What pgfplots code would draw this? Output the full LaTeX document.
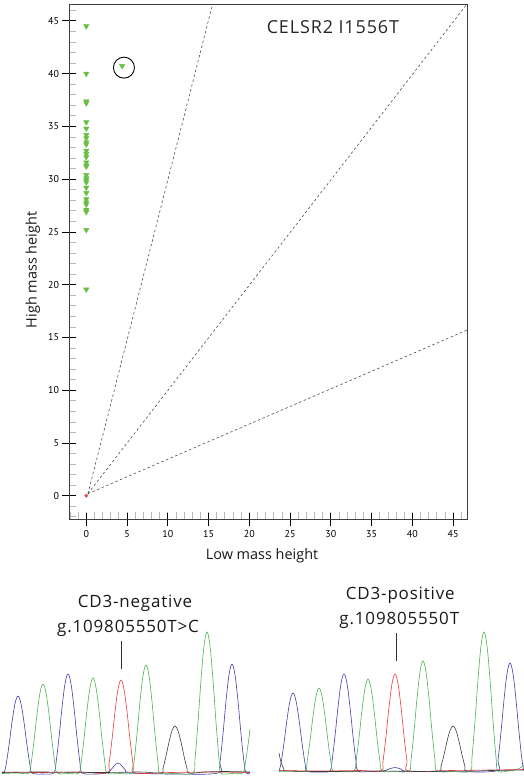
\documentclass[border=0pt]{standalone}
\usepackage{pgfplots}
\pgfplotsset{compat=1.18}
\usepackage{fontspec}
\setmainfont{Open Sans}
\newfontfamily\tickfont{PT Sans}
\newfontfamily\labelfont[LetterSpace=5]{Open Sans}
\definecolor{mkgreen}{RGB}{104,190,66}
\definecolor{mkred}{RGB}{232,70,70}
\definecolor{trblue}{RGB}{62,62,170}
\definecolor{trgreen}{RGB}{70,178,80}
\definecolor{trred}{RGB}{240,56,58}
\definecolor{trblack}{RGB}{60,60,60}
\begin{document}
\begin{tikzpicture}
\path[use as bounding box] (0,0) rectangle (524bp,-778bp);
\begin{axis}[
  at={(69bp,-519bp)}, anchor=south west,
  scale only axis, width=398bp, height=515bp,
  xmin=-2.12, xmax=46.7, ymin=-2.2, ymax=46.6,
  xtick={0,5,...,45}, ytick={0,5,...,45},
  minor xtick={-2,-1,...,46}, minor ytick={-2,-1,...,46},
  tick pos=left, tick align=center,
  major tick length=13bp, minor tick length=7bp,
  every major tick/.append style={black, line width=0.8bp},
  every minor tick/.append style={gray!55, line width=0.8bp},
  every minor x tick/.append style={yshift=3.5bp},
  every minor y tick/.append style={xshift=3.5bp},
  axis line style={black!75, line width=0.9bp},
  /pgf/number format/assume math mode=true,
  ticklabel style={font=\tickfont\fontsize{10}{10}\selectfont},
  xticklabel style={yshift=-1bp},
  label style={font=\fontsize{14.5}{14.5}\selectfont, text=black!90},
  xlabel={Low mass height},
  ylabel={High mass height},
  xlabel style={at={(axis description cs:0.485,-0.0718)}, anchor=center},
  ylabel style={at={(axis description cs:-0.0905,0.4835)}, anchor=center, rotate=0},
  clip=false,
]
\addplot[black!70, line width=0.6bp, dash pattern=on 2.5bp off 2.5bp] coordinates {(0.2,0.2) (15.5,46.6)};
\addplot[black!70, line width=0.6bp, dash pattern=on 2.5bp off 2.5bp] coordinates {(0.2,0.2) (46.7,46.6)};
\addplot[black!70, line width=0.6bp, dash pattern=on 2.5bp off 2.5bp] coordinates {(0.2,0.2) (46.7,15.7)};
\addplot[only marks, mark=triangle*, mark size=3.1bp, color=mkgreen, mark options={rotate=180, draw=mkgreen, fill=mkgreen}] coordinates {
(0,44.5) (0,40.0) (0,37.4) (0,37.2) (0,35.4) (0,34.8) (0,34.2) (0,33.9) (0,33.5) (0,33.3)
(0,32.7) (0,32.4) (0,32.1) (0,31.6) (0,31.3) (0,31.2) (0,30.4) (0,30.1) (0,29.9) (0,29.7)
(0,29.2) (0,28.7) (0,28.1) (0,27.8) (0,27.6) (0,27.1) (0,26.9) (0,25.2) (0,19.56) (4.4,40.73)
};
\addplot[only marks, mark=*, mark size=1.6bp, color=mkred] coordinates {(0,0)};
\draw[black, line width=0.9bp] (axis cs:4.62,40.57) circle (10.5bp);
\node[font=\labelfont\fontsize{18}{18}\selectfont, text=black!85] at (axis cs:30.25,44.4) {CELSR2 I1556T};
\end{axis}
\begin{axis}[
  at={(0bp,-778bp)}, anchor=south west,
  scale only axis, width=524bp, height=198bp,
  xmin=0, xmax=524, ymin=580, ymax=778, y dir=reverse,
  axis lines=none, clip=false,
  every axis plot/.append style={line width=0.6bp, smooth, tension=0.6},
]
% left panel, blue
\addplot[trblue] coordinates {(2,773)(4,773)(6,765.3)(9,745.3)(12,722.2)(15,703.7)(18,696)(21,703.7)(24,722.2)(27,745.3)(30,765.3)(32,773)(43,774)(54,773)(56,763.1)(59,737.4)(62,707.7)(65,683.9)(68,674)(71,683.9)(74,707.7)(77,737.4)(80,763.1)(82,773)(96,774)(106,773)(110,771)(114,766)(118,763)(122,766)(126,771)(130,773)(175,774)(218,773)(220,762.1)(223,733.8)(226,701.1)(229,674.9)(232,664)(235,674.9)(238,701.1)(241,733.8)(244,762.1)(246,773)(250,773.5)};
% left panel, green
\addplot[trgreen] coordinates {(2,773.5)(16,773)(29,773)(31,764.1)(34,741)(37,714.3)(40,692.9)(43,684)(46,692.9)(49,714.3)(52,741)(55,764.1)(57,773)(68,773.5)(79,773)(81,763.5)(84,738.8)(87,710.3)(90,687.5)(93,678)(96,687.5)(99,710.3)(102,738.8)(105,763.5)(107,773)(120,773.5)(132,773)(134,762.2)(137,734.1)(140,701.7)(143,675.8)(146,665)(149,675.8)(152,701.7)(155,734.1)(158,762.2)(160,773)(176,773.5)(193,773)(195,758.9)(198,722.2)(201,679.9)(204,646.1)(207,632)(210,646.1)(213,679.9)(216,722.2)(219,758.9)(221,773)(232,773.5)(243,773)(245,765)(248,745)(250,729)};
% left panel, red
\addplot[trred] coordinates {(2,772)(40,772.5)(80,772)(107,773)(109,763.7)(112,739.5)(115,711.6)(118,689.3)(121,680)(124,689.3)(127,711.6)(130,739.5)(133,763.7)(135,773)(170,772.5)(210,772)(250,772.5)};
% left panel, black
\addplot[trblack] coordinates {(2,772.5)(40,772)(100,772.5)(140,772)(161,773)(163,768.3)(166,756.1)(169,742)(172,730.7)(175,726)(178,730.7)(181,742)(184,756.1)(187,768.3)(189,773)(205,772)(225,771.5)(250,772)};
% right panel, blue
\addplot[trblue] coordinates {(279,771)(281,763.2)(284,742.9)(287,719.5)(290,700.8)(293,693)(296,700.8)(299,719.5)(302,742.9)(305,763.2)(307,771)(318,772)(330,771)(332,761.3)(335,736.1)(338,707)(341,683.7)(344,674)(347,683.7)(350,707)(353,736.1)(356,761.3)(358,771)(370,771.5)(383,771)(389,769)(395,767.5)(401,769)(407,771)(450,771.5)(496,771)(498,760.2)(501,732.1)(504,699.7)(507,673.8)(510,663)(513,673.8)(516,699.7)(519,732.1)(522,760.2)(524,771)};
% right panel, green
\addplot[trgreen] coordinates {(279,771.5)(292,771)(305,771)(307,762.7)(310,741.1)(313,716.2)(316,696.3)(319,688)(322,696.3)(325,716.2)(328,741.1)(331,762.7)(333,771)(343,771.5)(354,771)(356,761.8)(359,737.9)(362,710.3)(365,688.2)(368,679)(371,688.2)(374,710.3)(377,737.9)(380,761.8)(382,771)(395,771.5)(409,771)(411,760)(414,731.4)(417,698.4)(420,672)(423,661)(426,672)(429,698.4)(432,731.4)(435,760)(437,771)(453,771.5)(470,771)(472,757.1)(475,721)(478,679.3)(481,645.9)(484,632)(487,645.9)(490,679.3)(493,721)(496,757.1)(498,771)(508,771)(515,770)(520,768)(524,765)};
% right panel, red
\addplot[trred] coordinates {(279,770.5)(320,771)(360,770.5)(381,771)(383,761.3)(386,736.1)(389,707)(392,683.7)(395,674)(398,683.7)(401,707)(404,736.1)(407,761.3)(409,771)(450,770.5)(490,770)(524,769.5)};
% right panel, black
\addplot[trblack] coordinates {(279,753)(281,762)(284,769)(288,771)(330,771.5)(380,771)(420,771.5)(439,771)(441,766.5)(444,754.8)(447,741.3)(450,730.5)(453,726)(456,730.5)(459,741.3)(462,754.8)(465,766.5)(467,771)(490,770.5)(524,770)};
% marker lines
\addplot[black!80, line width=1.2bp, sharp plot] coordinates {(121.7,641) (121.7,669.3)};
\addplot[black!80, line width=1.2bp, sharp plot] coordinates {(396.3,633.3) (396.3,660.7)};
\node[font=\labelfont\fontsize{17}{17}\selectfont, text=black!90] at (axis cs:135,603) {CD3-negative};
\node[font=\labelfont\fontsize{17}{17}\selectfont, text=black!90] at (axis cs:128,628) {g.109805550T>C};
\node[font=\labelfont\fontsize{17}{17}\selectfont, text=black!90] at (axis cs:400.3,595) {CD3-positive};
\node[font=\labelfont\fontsize{17}{17}\selectfont, text=black!90] at (axis cs:399.3,620) {g.109805550T};
\end{axis}
\end{tikzpicture}
\end{document}
